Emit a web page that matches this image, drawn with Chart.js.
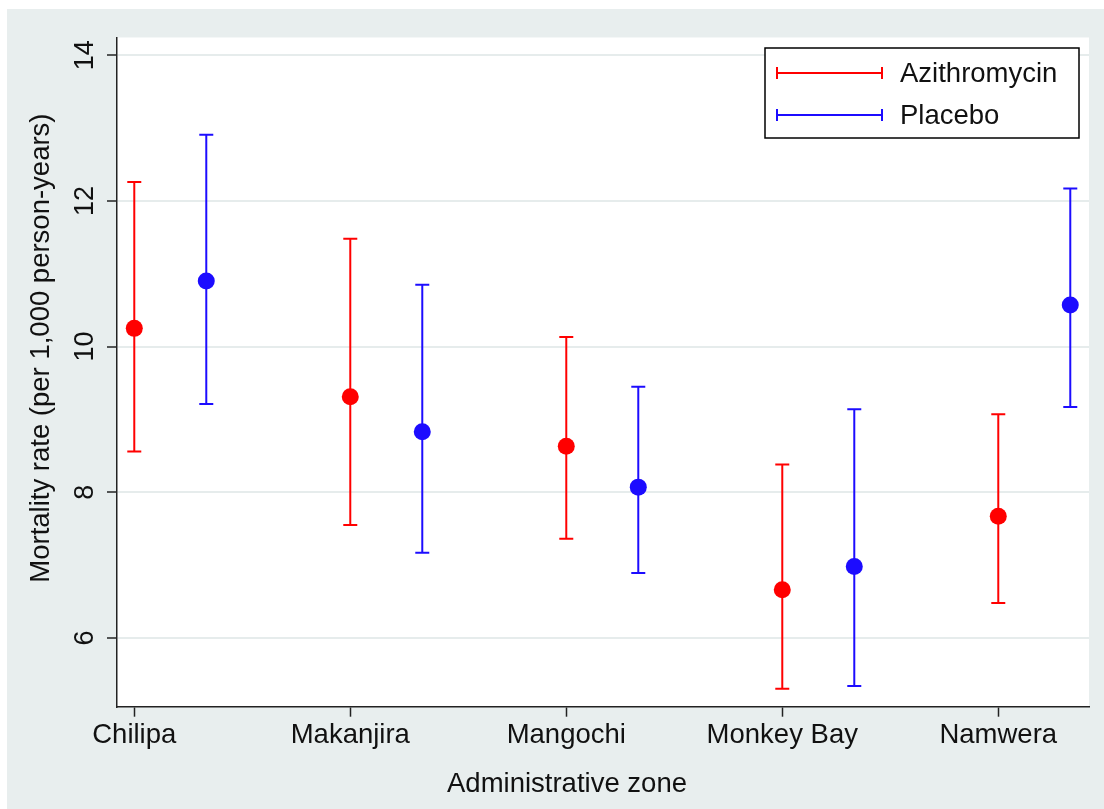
<!DOCTYPE html>
<html>
<head>
<meta charset="utf-8">
<script src="https://cdn.jsdelivr.net/npm/chart.js@4/dist/chart.umd.min.js"></script>
<style>
    html, body { margin: 0; padding: 0; background: #ffffff; }
    #wrap {
        position: absolute; left: 7px; top: 9px;
        width: 1097px; height: 800px;
        background: #e8eeee;
    }
</style>
</head>
<body>
<div id="wrap"><canvas id="mortality-chart" width="1097" height="800"></canvas></div>
<script>
// 地域（x軸のカテゴリ）
var zones = ['Chilipa', 'Makanjira', 'Mangochi', 'Monkey Bay', 'Namwera'];

// Azithromycin 群：死亡率と95%信頼区間
var aziRate = [10.25, 9.31, 8.63, 6.66, 7.67];
var aziLow  = [8.56, 7.55, 7.36, 5.30, 6.48];
var aziHigh = [12.26, 11.48, 10.13, 8.38, 9.07];

// Placebo 群
var plaRate = [10.90, 8.83, 8.07, 6.98, 10.57];
var plaLow  = [9.21, 7.17, 6.89, 5.34, 9.17];
var plaHigh = [12.91, 10.85, 9.45, 9.14, 12.17];

// y軸の目盛
var yTicks = [6, 8, 10, 12, 14];

// Placebo は右にずらして描く（データ単位）
var plaShift = 1 / 3;

var RED = '#ff0000';
var BLUE = '#1c0cff';
var FONT = '"Liberation Sans", Arial, sans-serif';

// 点データ
function points(rate, shift) {
    var out = [];
    for (var i = 0; i < rate.length; i++) {
        out.push({x: i + shift, y: rate[i]});
    }
    return out;
}

// 信頼区間（null で線を切る）
function ciSegments(low, high, shift) {
    var out = [];
    for (var i = 0; i < low.length; i++) {
        out.push({x: i + shift, y: low[i]});
        out.push({x: i + shift, y: high[i]});
        out.push({x: i + shift, y: null});
    }
    return out;
}

// プロット領域を白く塗る
var plotBg = {
    id: 'plotBg',
    beforeDraw: function(chart) {
        var ca = chart.chartArea;
        chart.ctx.save();
        chart.ctx.fillStyle = '#ffffff';
        chart.ctx.fillRect(ca.left, ca.top, ca.right - ca.left, ca.bottom - ca.top);
        chart.ctx.restore();
    }
};

// 凡例と軸タイトルを描く
var annotate = {
    id: 'annotate',
    afterDraw: function(chart) {
        var ctx = chart.ctx;
        var ca = chart.chartArea;
        ctx.save();
        ctx.fillStyle = '#111111';
        ctx.font = '27.5px ' + FONT;
        ctx.textAlign = 'center';
        ctx.textBaseline = 'middle';

        // x軸タイトル
        ctx.fillText('Administrative zone', (ca.left + ca.right) / 2 - 36, ca.bottom + 78);

        // y軸タイトル
        ctx.save();
        ctx.translate(ca.left - 75.5, (ca.top + ca.bottom) / 2 - 24);
        ctx.rotate(-Math.PI / 2);
        ctx.fillText('Mortality rate (per 1,000 person-years)', 0, 0);
        ctx.restore();

        // 凡例
        var bw = 314, bh = 90;
        var bx = ca.right - 10 - bw;
        var by = ca.top + 10.5;
        ctx.fillStyle = '#ffffff';
        ctx.fillRect(bx, by, bw, bh);
        ctx.strokeStyle = '#000000';
        ctx.lineWidth = 1.5;
        ctx.strokeRect(bx, by, bw, bh);

        var items = [
            {label: chart.data.datasets[2].label, color: RED, y: by + 25},
            {label: chart.data.datasets[3].label, color: BLUE, y: by + 67}
        ];
        items.forEach(function(it) {
            var x0 = bx + 12, x1 = bx + 117;
            ctx.strokeStyle = it.color;
            ctx.lineWidth = 2;
            ctx.beginPath();
            ctx.moveTo(x0, it.y); ctx.lineTo(x1, it.y);
            ctx.moveTo(x0, it.y - 6); ctx.lineTo(x0, it.y + 6);
            ctx.moveTo(x1, it.y - 6); ctx.lineTo(x1, it.y + 6);
            ctx.stroke();
            ctx.fillStyle = '#111111';
            ctx.textAlign = 'left';
            ctx.fillText(it.label, bx + 135, it.y + 1);
        });
        ctx.restore();
    }
};

var ctx = document.getElementById('mortality-chart').getContext('2d');
new Chart(ctx, {
    type: 'scatter',
    data: {
        datasets: [
            {
                label: 'Azithromycin rate',
                data: points(aziRate, 0),
                backgroundColor: RED,
                borderWidth: 0,
                pointRadius: 8.5
            },
            {
                label: 'Placebo rate',
                data: points(plaRate, plaShift),
                backgroundColor: BLUE,
                borderWidth: 0,
                pointRadius: 8.5
            },
            {
                label: 'Azithromycin',
                data: ciSegments(aziLow, aziHigh, 0),
                showLine: true,
                spanGaps: false,
                borderColor: RED,
                borderWidth: 2,
                pointStyle: 'line',
                pointRadius: 7,
                pointBorderWidth: 2,
                pointBorderColor: RED
            },
            {
                label: 'Placebo',
                data: ciSegments(plaLow, plaHigh, plaShift),
                showLine: true,
                spanGaps: false,
                borderColor: BLUE,
                borderWidth: 2,
                pointStyle: 'line',
                pointRadius: 7,
                pointBorderWidth: 2,
                pointBorderColor: BLUE
            }
        ]
    },
    options: {
        responsive: false,
        animation: false,
        events: [],
        layout: {
            padding: {top: 28.5, right: 15, left: 0, bottom: 0}
        },
        plugins: {
            legend: {display: false},
            tooltip: {enabled: false}
        },
        scales: {
            x: {
                type: 'linear',
                min: -0.08,
                max: 4.42,
                afterBuildTicks: function(scale) {
                    scale.ticks = zones.map(function(z, i) { return {value: i}; });
                },
                afterFit: function(scale) { scale.height = 102.3; },
                ticks: {
                    color: '#111111',
                    font: {family: FONT, size: 27.5},
                    padding: 2,
                    maxRotation: 0,
                    autoSkip: false,
                    callback: function(v) { return zones[v]; }
                },
                grid: {
                    drawOnChartArea: false,
                    drawTicks: true,
                    tickLength: 10,
                    tickColor: '#222222',
                    tickWidth: 1.5
                },
                border: {display: true, color: '#222222', width: 1.5}
            },
            y: {
                min: 5.055,
                max: 14.244,
                afterBuildTicks: function(scale) {
                    scale.ticks = yTicks.map(function(v) { return {value: v}; });
                },
                afterFit: function(scale) { scale.width = 110; },
                ticks: {
                    color: '#111111',
                    font: {family: FONT, size: 27},
                    padding: 6,
                    minRotation: 90,
                    maxRotation: 90,
                    crossAlign: 'center'
                },
                grid: {
                    color: '#e6ecec',
                    lineWidth: 2,
                    drawTicks: true,
                    tickLength: 10,
                    tickColor: '#222222',
                    tickWidth: 1.5
                },
                border: {display: true, color: '#222222', width: 1.5}
            }
        }
    },
    plugins: [plotBg, annotate]
});
</script>
</body>
</html>
